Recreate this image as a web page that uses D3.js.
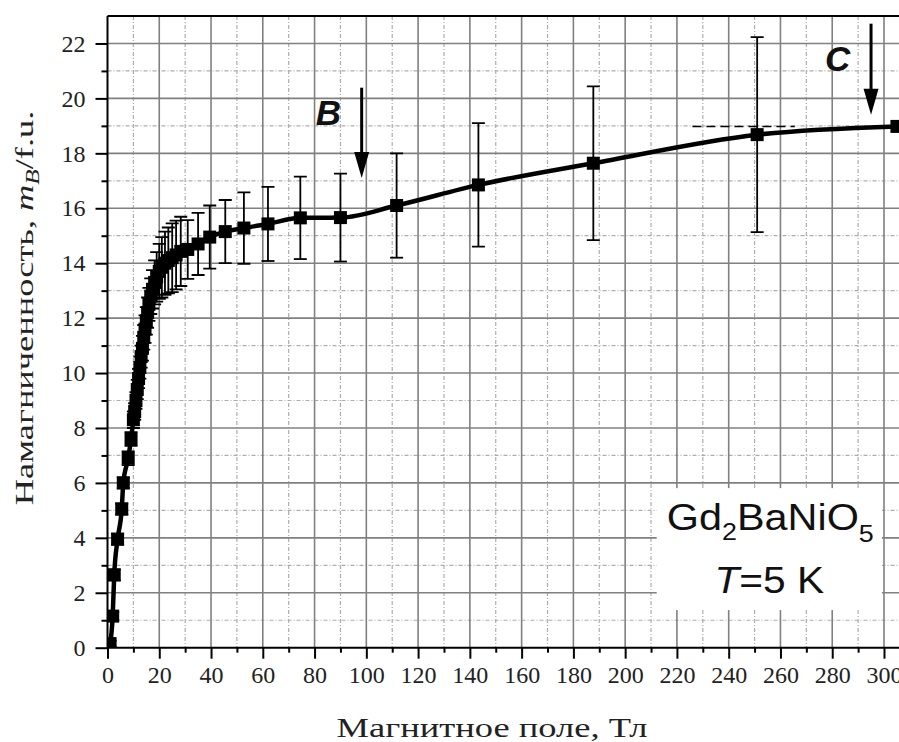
<!DOCTYPE html>
<html>
<head>
<meta charset="utf-8">
<script src="https://cdn.jsdelivr.net/npm/d3@7/dist/d3.min.js"></script>
<style>
  body { margin: 0; background: #fff; }
  svg { display: block; }
</style>
</head>
<body>
<svg id="chart" width="899" height="742"></svg>
<script>
// magnetization curve
const field = [1.0, 2.0, 2.6, 3.9, 5.5, 6.1, 8.0, 9.1, 10.0, 10.5, 11.0, 11.5, 12.0, 12.5, 13.0, 13.5,
  14.0, 14.5, 15.0, 15.5, 16.0, 16.7, 17.4, 18.2, 19.0, 20.0, 21.0, 22.2, 23.5, 25.0, 26.5, 28.3,
  31.0, 35.0, 39.5, 45.5, 52.7, 62.0, 74.5, 90.0, 111.7, 143.3, 187.7, 251.0, 305.0]
const moment = [0.15, 1.15, 2.65, 3.95, 5.05, 6.0, 6.9, 7.6, 8.3, 8.6, 9.0, 9.4, 9.8, 10.2, 10.6, 10.9,
  11.3, 11.6, 11.9, 12.2, 12.5, 12.8, 13.05, 13.3, 13.5, 13.7, 13.85, 14.0, 14.1, 14.2, 14.3, 14.43,
  14.5, 14.7, 14.95, 15.15, 15.28, 15.43, 15.65, 15.66, 16.1, 16.85, 17.64, 18.68, 18.98]
const momentErr = [0.1, 0.15, 0.2, 0.2, 0.2, 0.2, 0.25, 0.25, 0.3, 0.3, 0.3, 0.35, 0.35, 0.4, 0.4, 0.45,
  0.45, 0.5, 0.5, 0.55, 0.6, 0.65, 0.7, 0.8, 0.9, 1.0, 1.1, 1.15, 1.2, 1.25, 1.25, 1.26,
  1.07, 1.13, 1.15, 1.15, 1.3, 1.35, 1.5, 1.6, 1.9, 2.25, 2.8, 3.55, 0]
const fieldErrLeft = [0, 0, 0, 0, 0, 0, 0, 0, 0, 0, 0, 0, 0, 0, 0, 0, 0, 0, 0, 0, 0, 0, 0, 0, 0, 0, 0, 0,
  0, 0, 0, 0, 0, 0, 0, 0, 0, 0, 0, 0, 0, 0, 0, 0, 79]

const xTicks = d3.range(0, 301, 20)
const yTicks = d3.range(0, 23, 2)
const xMinor = d3.range(10, 306, 20)
const yMinor = d3.range(1, 23, 2)

const serif = '"Liberation Serif", "Times New Roman", serif'
const sans = '"Liberation Sans", Arial, sans-serif'

const svg = d3.select('#chart')
const box = { left: 107.5, right: 899, top: 16, bottom: 647.7 }

const x = d3.scaleLinear().domain([0, 305.8]).range([box.left, box.right])
const y = d3.scaleLinear().domain([0, 23]).range([box.bottom, box.top])

const points = field.map((f, i) => ({ f, m: moment[i], e: momentErr[i], xe: fieldErrLeft[i] }))

svg.append('defs').append('clipPath').attr('id', 'clip')
  .append('rect').attr('x', box.left).attr('y', box.top)
  .attr('width', box.right - box.left).attr('height', box.bottom - box.top)

// grid
const grid = svg.append('g')
grid.selectAll('.vminor').data(xMinor).enter().append('line')
  .attr('x1', d => x(d)).attr('x2', d => x(d)).attr('y1', box.top).attr('y2', box.bottom)
  .style('stroke', '#adadad').style('stroke-width', 1.2).style('stroke-dasharray', '4,2,1,2')
grid.selectAll('.hminor').data(yMinor).enter().append('line')
  .attr('x1', box.left).attr('x2', box.right).attr('y1', d => y(d)).attr('y2', d => y(d))
  .style('stroke', '#adadad').style('stroke-width', 1.2).style('stroke-dasharray', '4,2,1,2')
grid.selectAll('.vmajor').data(xTicks.slice(1)).enter().append('line')
  .attr('x1', d => x(d)).attr('x2', d => x(d)).attr('y1', box.top).attr('y2', box.bottom)
  .style('stroke', '#808080').style('stroke-width', 1.6)
grid.selectAll('.hmajor').data(yTicks.slice(1)).enter().append('line')
  .attr('x1', box.left).attr('x2', box.right).attr('y1', d => y(d)).attr('y2', d => y(d))
  .style('stroke', '#808080').style('stroke-width', 1.6)

// axes
const axes = svg.append('g')
axes.append('g').attr('transform', `translate(0,${box.bottom})`)
  .call(d3.axisBottom(x).tickValues(xTicks).tickSize(11).tickPadding(7).tickFormat(d3.format('d')))
axes.append('g').attr('transform', `translate(0,${box.bottom})`)
  .call(d3.axisBottom(x).tickValues(xMinor).tickSize(5).tickFormat(''))
axes.append('g').attr('transform', `translate(${box.left},0)`)
  .call(d3.axisLeft(y).tickValues(yTicks).tickSize(12).tickPadding(10).tickFormat(d3.format('d')))
axes.append('g').attr('transform', `translate(${box.left},0)`)
  .call(d3.axisLeft(y).tickValues(yMinor).tickSize(6).tickFormat(''))

axes.selectAll('g').attr('font-family', serif).attr('font-size', 24)
axes.selectAll('.domain').remove()
axes.selectAll('.tick line').style('stroke', '#000').style('stroke-width', 2)
axes.selectAll('.tick text').attr('fill', '#222').style('font-family', serif).style('font-size', '24px')

svg.append('line').attr('x1', box.left).attr('x2', box.right).attr('y1', box.bottom).attr('y2', box.bottom)
  .style('stroke', '#000').style('stroke-width', 2)
svg.append('line').attr('x1', box.left).attr('x2', box.left).attr('y1', box.top).attr('y2', box.bottom)
  .style('stroke', '#000').style('stroke-width', 2)
svg.append('line').attr('x1', box.left).attr('x2', box.right).attr('y1', box.top).attr('y2', box.top)
  .style('stroke', '#000').style('stroke-width', 2)

// stretch a text along its own direction so it spans the given length
function fitLength(sel, len) {
  const w = sel.node().getBBox().width
  sel.attr('transform', (sel.attr('transform') || '') + ` scale(${len / w},1)`)
}

// legend box
const legend = svg.append('g')
legend.append('rect').attr('x', x(212.2)).attr('y', y(5.81))
  .attr('width', x(299.2) - x(212.2)).attr('height', y(1.37) - y(5.81)).style('fill', '#fff')
const t1 = legend.append('text').attr('transform', `translate(${x(255.7) + 1},530)`).attr('text-anchor', 'middle')
  .style('font-family', sans).style('font-size', '37px').attr('fill', '#111')
t1.append('tspan').text('Gd')
t1.append('tspan').attr('dy', 10).style('font-size', '24px').text('2')
t1.append('tspan').attr('dy', -10).text('BaNiO')
t1.append('tspan').attr('dy', 12).style('font-size', '24px').text('5')
fitLength(t1, 207)
const t2 = legend.append('text').attr('transform', `translate(${x(255.7)},593)`).attr('text-anchor', 'middle')
  .style('font-family', sans).style('font-size', '37px').attr('fill', '#111')
t2.append('tspan').style('font-style', 'italic').text('T')
t2.append('tspan').text('=5 K')
fitLength(t2, 110)

// data
const plot = svg.append('g').attr('clip-path', 'url(#clip)')
const bars = plot.append('g')
const withErr = points.filter(d => d.e > 0)
bars.selectAll('.ebar').data(withErr).enter().append('line')
  .attr('x1', d => x(d.f)).attr('x2', d => x(d.f)).attr('y1', d => y(d.m - d.e)).attr('y2', d => y(d.m + d.e))
  .style('stroke', '#000').style('stroke-width', 1.8)
bars.selectAll('.ecapTop').data(withErr).enter().append('line')
  .attr('x1', d => x(d.f) - 6.5).attr('x2', d => x(d.f) + 6.5).attr('y1', d => y(d.m + d.e)).attr('y2', d => y(d.m + d.e))
  .style('stroke', '#000').style('stroke-width', 1.8)
bars.selectAll('.ecapBot').data(withErr).enter().append('line')
  .attr('x1', d => x(d.f) - 6.5).attr('x2', d => x(d.f) + 6.5).attr('y1', d => y(d.m - d.e)).attr('y2', d => y(d.m - d.e))
  .style('stroke', '#000').style('stroke-width', 1.8)
bars.selectAll('.xbar').data(points.filter(d => d.xe > 0)).enter().append('line')
  .attr('x1', d => x(d.f - d.xe)).attr('x2', d => x(d.f - d.xe / 2)).attr('y1', d => y(d.m)).attr('y2', d => y(d.m))
  .style('stroke', '#000').style('stroke-width', 1.5).style('stroke-dasharray', '9,5')

const line = d3.line().x(d => x(d.f)).y(d => y(d.m)).curve(d3.curveMonotoneX)
plot.append('path').datum(points).attr('d', line)
  .style('fill', 'none').style('stroke', '#000').style('stroke-width', 4.5)
plot.selectAll('.pt').data(points).enter().append('rect')
  .attr('x', d => x(d.f) - 6.5).attr('y', d => y(d.m) - 6.5).attr('width', 13).attr('height', 13)
  .style('fill', '#000')

// arrows
const arrows = [{ f: 98.2, from: 20.39, to: 17.1, label: 'B', lf: 80.5, lm: 19.04 },
  { f: 295, from: 22.72, to: 19.4, label: 'C', lf: 277.2, lm: 20.98 }]
arrows.forEach(a => {
  const ax = x(a.f), y0 = y(a.from), y1 = y(a.to)
  svg.append('line').attr('x1', ax).attr('x2', ax).attr('y1', y0).attr('y2', y1 - 20)
    .style('stroke', '#000').style('stroke-width', 3)
  svg.append('path').attr('d', `M${ax - 7.5},${y1 - 26} L${ax + 7.5},${y1 - 26} L${ax},${y1} Z`).style('fill', '#000')
  svg.append('text').attr('x', x(a.lf)).attr('y', y(a.lm))
    .style('font-family', sans).style('font-size', '35px')
    .style('font-weight', 'bold').style('font-style', 'italic').attr('fill', '#111').text(a.label)
})

// axis titles
const xl = svg.append('text').attr('transform', 'translate(492,737)').attr('text-anchor', 'middle')
  .style('font-family', serif).style('font-size', '27px').attr('fill', '#222')
  .text('Магнитное поле, Тл')
fitLength(xl, 311)

const yl = svg.append('text').attr('transform', 'translate(33,308) rotate(-90)').attr('text-anchor', 'middle')
  .style('font-family', serif).style('font-size', '26px').attr('fill', '#222')
yl.append('tspan').text('Намагниченность, ')
yl.append('tspan').style('font-style', 'italic').text('m')
yl.append('tspan').attr('dy', 6).style('font-style', 'italic').style('font-size', '18px').text('B')
yl.append('tspan').attr('dy', -6).text('/f.u.')
fitLength(yl, 395)
</script>
</body>
</html>
